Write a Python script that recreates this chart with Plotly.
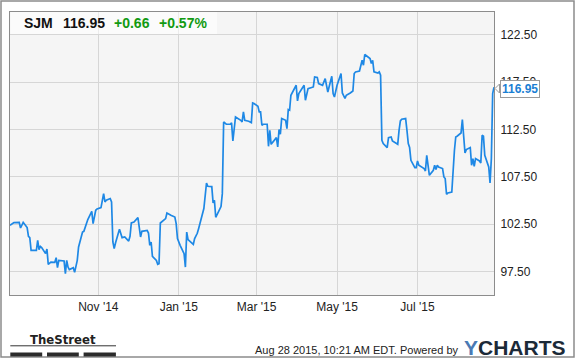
import plotly.graph_objects as go

# ---------------- data ----------------
dates = [
    "2014-08-26","2014-08-29","2014-09-02","2014-09-03","2014-09-05","2014-09-08","2014-09-09","2014-09-10",
    "2014-09-11","2014-09-15","2014-09-16","2014-09-17","2014-09-18","2014-09-19","2014-09-22","2014-09-23",
    "2014-09-24","2014-09-26","2014-09-29","2014-09-30","2014-10-01","2014-10-02","2014-10-06","2014-10-07",
    "2014-10-08","2014-10-09","2014-10-10","2014-10-13","2014-10-14","2014-10-16","2014-10-17","2014-10-20",
    "2014-10-21","2014-10-23","2014-10-24","2014-10-27","2014-10-28","2014-10-30","2014-10-31","2014-11-03",
    "2014-11-05","2014-11-06","2014-11-07","2014-11-10","2014-11-11","2014-11-12","2014-11-13","2014-11-14",
    "2014-11-17","2014-11-19","2014-11-21","2014-11-24","2014-11-25","2014-11-26","2014-11-28","2014-12-01",
    "2014-12-03","2014-12-04","2014-12-08","2014-12-09","2014-12-10","2014-12-11","2014-12-12","2014-12-15",
    "2014-12-16","2014-12-17","2014-12-18","2014-12-22","2014-12-23","2014-12-26","2014-12-29","2014-12-30",
    "2014-12-31","2015-01-02","2015-01-05","2015-01-06","2015-01-07","2015-01-08","2015-01-12","2015-01-13",
    "2015-01-15","2015-01-16","2015-01-20","2015-01-22","2015-01-23","2015-01-26","2015-01-27","2015-01-28",
    "2015-01-29","2015-02-02","2015-02-03","2015-02-04","2015-02-06","2015-02-09","2015-02-10","2015-02-11",
    "2015-02-13","2015-02-17","2015-02-18","2015-02-19","2015-02-20","2015-02-23","2015-02-25","2015-02-26",
    "2015-02-27","2015-03-02","2015-03-03","2015-03-04","2015-03-05","2015-03-06","2015-03-09","2015-03-10",
    "2015-03-11","2015-03-12","2015-03-16","2015-03-17","2015-03-18","2015-03-19","2015-03-20","2015-03-23",
    "2015-03-24","2015-03-25","2015-03-26","2015-03-27","2015-03-31","2015-04-01","2015-04-02","2015-04-06",
    "2015-04-07","2015-04-09","2015-04-13","2015-04-14","2015-04-16","2015-04-17","2015-04-20","2015-04-22",
    "2015-04-24","2015-04-27","2015-04-28","2015-04-29","2015-05-01","2015-05-04","2015-05-05","2015-05-07",
    "2015-05-08","2015-05-11","2015-05-13","2015-05-14","2015-05-15","2015-05-18","2015-05-20","2015-05-21",
    "2015-05-22","2015-05-26","2015-05-27","2015-05-28","2015-05-29","2015-06-01","2015-06-02","2015-06-03",
    "2015-06-04","2015-06-05","2015-06-08","2015-06-09","2015-06-11","2015-06-12","2015-06-15","2015-06-16",
    "2015-06-17","2015-06-18","2015-06-19","2015-06-22","2015-06-23","2015-06-24","2015-06-25","2015-06-26",
    "2015-06-29","2015-06-30","2015-07-01","2015-07-02","2015-07-06","2015-07-07","2015-07-08","2015-07-09",
    "2015-07-10","2015-07-13","2015-07-14","2015-07-15","2015-07-16","2015-07-17","2015-07-20","2015-07-21",
    "2015-07-22","2015-07-23","2015-07-24","2015-07-27","2015-07-28","2015-07-29","2015-07-30","2015-07-31",
    "2015-08-03","2015-08-04","2015-08-06","2015-08-07","2015-08-10","2015-08-11","2015-08-12","2015-08-13",
    "2015-08-14","2015-08-17","2015-08-18","2015-08-19","2015-08-20","2015-08-21","2015-08-24","2015-08-25",
    "2015-08-26","2015-08-27","2015-08-28",
]
prices = [
    102.36,102.65,102.68,102.08,102.68,102.12,101.20,101.06,
    99.72,99.72,100.78,99.79,100.14,100.01,99.37,99.86,
    98.24,98.48,98.45,98.95,97.89,98.66,98.59,97.26,
    98.66,97.95,97.68,97.89,97.39,98.66,100.07,101.65,
    101.73,102.47,102.97,103.84,102.54,103.95,104.09,104.23,
    105.71,104.83,105.01,105.19,104.83,100.60,99.90,100.49,
    101.94,101.06,101.13,100.70,101.20,102.61,102.71,103.18,
    101.13,101.73,101.83,101.55,100.25,100.60,99.09,98.66,
    98.24,98.31,102.61,103.07,103.66,103.42,103.24,102.54,
    100.96,100.25,99.37,97.95,101.65,100.85,100.35,100.96,
    101.52,102.01,104.13,106.83,106.49,106.45,104.74,105.01,
    103.21,104.34,105.71,113.28,113.04,113.04,113.18,111.27,
    113.81,113.46,113.28,114.34,113.46,113.36,113.22,115.29,
    115.23,114.94,114.34,114.34,112.93,113.04,113.04,110.71,
    112.40,110.92,111.63,110.64,112.48,111.98,113.64,113.46,
    112.58,114.59,114.52,116.10,117.16,115.50,116.28,117.16,
    115.58,116.81,116.98,118.04,117.98,117.34,117.16,117.87,
    116.45,118.11,116.28,115.92,117.16,118.40,116.35,115.76,
    116.10,116.35,116.56,118.40,118.57,118.67,119.80,119.28,
    120.41,119.98,119.46,119.80,118.57,118.46,118.57,118.22,
    111.35,111.00,110.58,111.63,111.70,111.27,111.06,110.92,
    112.40,113.39,113.57,113.64,112.40,111.00,110.58,109.23,
    108.46,108.46,109.16,108.71,108.36,108.10,109.76,108.36,
    107.65,108.18,108.71,108.25,108.71,108.53,108.36,107.47,
    107.30,105.64,105.78,105.88,108.81,110.29,111.70,111.77,
    112.12,113.54,110.01,110.36,110.58,108.71,109.41,108.60,
    109.41,109.16,108.95,111.88,111.77,109.76,108.53,106.83,
    109.41,116.29,116.95,
]
ticker = "SJM"
last_price = "116.95"
change = "+0.66"
change_pct = "+0.57%"
x_tick_vals = ["2014-11-01", "2015-01-01", "2015-03-01", "2015-05-01", "2015-07-01"]
x_tick_text = ["Nov '14", "Jan '15", "Mar '15", "May '15", "Jul '15"]
y_tick_vals = [97.5, 102.5, 107.5, 112.5, 117.5, 122.5]
y_tick_text = ["97.50", "102.50", "107.50", "112.50", "117.50", "122.50"]
timestamp = "Aug 28 2015, 10:21 AM EDT. Powered by"

# ---------------- layout helpers ----------------
W, H = 575, 358
ML, MR, MT, MB = 10, 81, 12, 63
PW, PH = W - ML - MR, H - MT - MB


def px(x):
    return (x - ML) / PW


def py(y):
    return (H - MB - y) / PH


FONT = "Arial, Liberation Sans, Helvetica, sans-serif"
LINE_BLUE = "#1e88e5"

fig = go.Figure()
fig.add_trace(go.Scatter(
    x=dates, y=prices, mode="lines",
    line=dict(color=LINE_BLUE, width=1.7),
    hoverinfo="skip", showlegend=False,
))

fig.update_layout(
    width=W, height=H,
    margin=dict(l=ML, r=MR, t=MT, b=MB, pad=0),
    paper_bgcolor="white",
    plot_bgcolor="#f5f5f5",
    font=dict(family=FONT, size=12, color="#222"),
    xaxis=dict(
        type="date",
        range=["2014-08-26", "2015-08-28"],
        tickmode="array", tickvals=x_tick_vals, ticktext=x_tick_text,
        showgrid=True, gridcolor="#d6d6d6", gridwidth=1,
        showline=True, linecolor="#8c8c8c", linewidth=1, mirror=True,
        ticks="", ticklabelstandoff=1,
        tickfont=dict(size=12, color="#222"),
        zeroline=False,
    ),
    yaxis=dict(
        side="right",
        range=[95.0, 124.9],
        tickmode="array", tickvals=y_tick_vals, ticktext=y_tick_text,
        showgrid=True, gridcolor="#d6d6d6", gridwidth=1,
        showline=True, linecolor="#8c8c8c", linewidth=1, mirror=True,
        ticks="", ticklabelstandoff=3,
        tickfont=dict(size=12, color="#222"),
        zeroline=False,
    ),
)

shapes = []
# header box (semi-transparent)
shapes.append(dict(type="rect", xref="paper", yref="paper",
                   x0=px(10.5), x1=px(217), y0=py(34), y1=py(12),
                   fillcolor="rgba(255,255,255,0.55)", line=dict(width=0), layer="above"))
# pointer notch of the last price callout
pts = [(499.5, 84), (495, 88.5), (499.5, 93)]
path = "M " + " L ".join(f"{px(a):.5f},{py(b):.5f}" for a, b in pts) + " Z"
shapes.append(dict(type="path", xref="paper", yref="paper", path=path,
                   fillcolor="white", line=dict(color="#9a9a9a", width=1), layer="above"))
# outer frame
shapes.append(dict(type="rect", xref="paper", yref="paper",
                   x0=px(1), x1=px(574), y0=py(357), y1=py(1),
                   fillcolor="rgba(0,0,0,0)", line=dict(color="#8c8c8c", width=1.5), layer="above"))
# TheStreet logo underline and bars
shapes.append(dict(type="line", xref="paper", yref="paper",
                   x0=px(10.3), x1=px(116), y0=py(345.8), y1=py(345.8),
                   line=dict(color="#333", width=1)))
for a, b in [(10.3, 42.2), (47, 78.8), (83.6, 115.9)]:
    shapes.append(dict(type="rect", xref="paper", yref="paper",
                       x0=px(a), x1=px(b), y0=py(356.5), y1=py(352.5),
                       fillcolor="#2b2b2b", line=dict(width=0)))
fig.update_layout(shapes=shapes)

ann = []
hdr_y = py(23.5)
for xl, txt, col in [(21.5, ticker, "#111"), (60.5, last_price, "#111"),
                     (112, change, "#129a12"), (156.5, change_pct, "#129a12")]:
    ann.append(dict(xref="paper", yref="paper", x=px(xl), y=hdr_y, xanchor="left", yanchor="middle",
                    text=f"<b>{txt}</b>", showarrow=False,
                    font=dict(family=FONT, size=14, color=col)))
# last price callout box (drawn as an annotation so it sits over the axis label like the original)
ann.append(dict(xref="paper", yref="paper", x=px(499.5), y=py(88.8), xanchor="left", yanchor="middle",
                text=f"<b>{last_price}</b>", showarrow=False,
                bgcolor="white", bordercolor="#9a9a9a", borderwidth=1, borderpad=1,
                font=dict(family=FONT, size=12, color="#1b7fd4")))
ann.append(dict(xref="paper", yref="paper", x=px(63), y=py(339.5), xanchor="center", yanchor="middle",
                text="<b>TheStreet</b>", showarrow=False,
                font=dict(family="Liberation Sans Narrow, DejaVu Sans Condensed, Liberation Sans", size=13, color="#222")))
ann.append(dict(xref="paper", yref="paper", x=px(461), y=py(350), xanchor="right", yanchor="middle",
                text=timestamp, showarrow=False,
                font=dict(family=FONT, size=11, color="#222")))
ann.append(dict(xref="paper", yref="paper", x=px(462), y=py(347), xanchor="left", yanchor="middle",
                text="<span style='color:#4a7ab4'>Y</span>CHARTS", showarrow=False,
                font=dict(family=FONT, size=21, color="#1c2a38", weight="bold")))
fig.update_layout(annotations=ann)

fig.write_html("out.html")
